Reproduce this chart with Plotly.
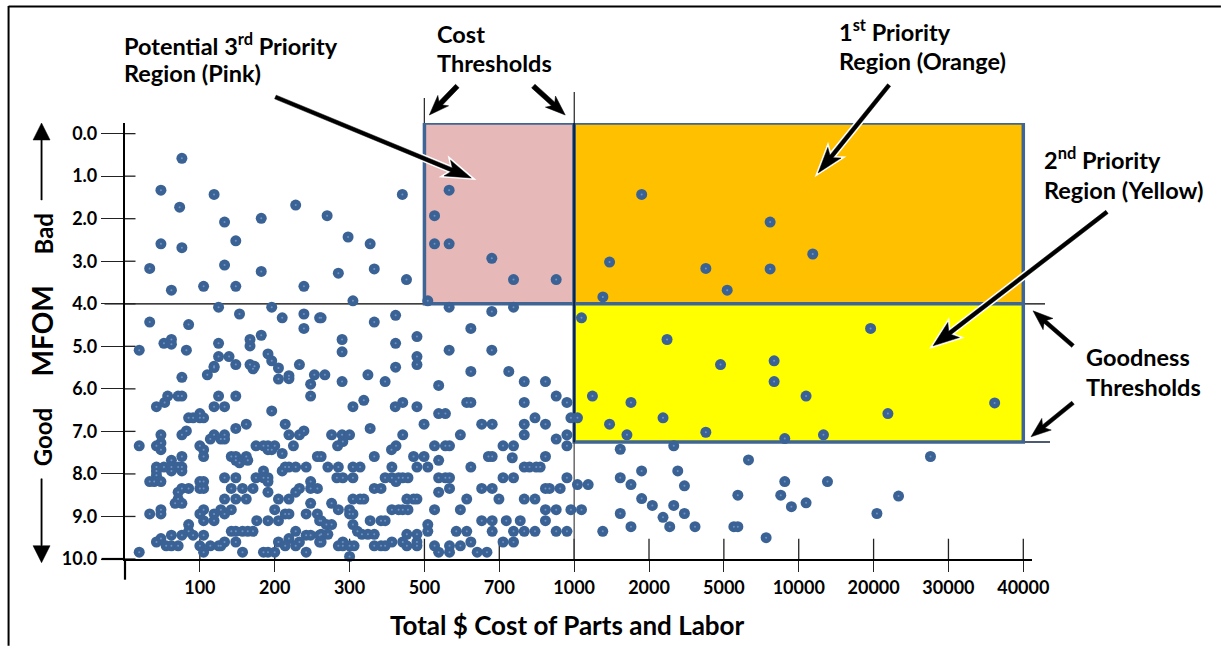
import numpy as np
import plotly.graph_objects as go

# ---------- data: (total cost $, MFOM) ----------
cost_ticks = [0, 100, 200, 300, 500, 700, 1000, 2000, 5000, 10000, 20000, 30000, 40000]
cost_tick_labels = ["100", "200", "300", "500", "700", "1000", "2000", "5000", "10000", "20000", "30000", "40000"]
mfom_ticks = [0, 1, 2, 3, 4, 5, 6, 7, 8, 9, 10]
mfom_tick_labels = ["0.0", "1.0", "2.0", "3.0", "4.0", "5.0", "6.0", "7.0", "8.0", "9.0", "10.0"]
cost_thresholds = [500, 1000]
goodness_thresholds = [4.0, 7.25]

points_upper_left = [
(76,0.58),(48,1.33),(119,1.43),(73,1.73),(228,1.68),(182,1.99),(133,2.08),(148,2.52),(48,2.59),(76,2.68),
(133,3.09),(33,3.17),(182,3.24),(62,3.68),(105,3.59),(148,3.59),(239,3.59),(125,4.08),(196,4.08),(153,4.24),
(239,4.24),(210,4.33),(260,4.33),(33,4.43),(85,4.49),(239,4.58),(182,4.74),(167,4.84),(62,4.84),(52,4.93),
(62,4.95),(125,4.93),(167,4.99),(19,5.09),(82,5.09),(191,5.18),(125,5.24),(139,5.24),(196,5.34),(148,5.43),
(167,5.43),(173,5.47),(233,5.43),(119,5.47),(205,5.51),(76,5.73),(110,5.67),(119,5.50),(171,5.53),(205,5.77),
(219,5.69),(219,5.76),(253,5.67),(248,5.89),(248,6.17),
]
points_low_cost = [
(57,6.17),(53,6.32),(42,6.42),(71,6.17),(76,6.17),(125,6.17),(148,6.17),(119,6.42),(133,6.42),(196,6.52),
(100,6.58),(85,6.68),(91,6.68),(100,6.68),(105,6.68),(162,6.83),(214,6.83),(148,6.93),(82,6.99),(239,6.99),
(76,7.08),(48,7.08),(119,7.08),(133,7.08),(219,7.08),(233,7.08),(114,7.18),(128,7.18),(133,7.18),(48,7.27),
(19,7.34),(42,7.34),(100,7.34),(175,7.34),(185,7.34),(191,7.34),(200,7.34),(225,7.34),(48,7.43),(105,7.43),
(191,7.43),(196,7.43),(210,7.52),(76,7.59),(105,7.59),(142,7.59),(148,7.59),(162,7.59),(257,7.59),(62,7.68),
(148,7.68),(153,7.74),(164,7.68),(42,7.84),(52,7.84),(62,7.84),(71,7.84),(76,7.84),(214,7.84),(219,7.84),
(228,7.84),(242,7.84),(42,7.93),(62,7.93),(76,7.93),(185,7.93),(210,7.93),(42,8.03),(133,8.09),(148,8.09),
(175,8.09),(185,8.09),(191,8.09),(100,8.18),(105,8.18),(33,8.18),(39,8.18),(48,8.18),(191,8.18),(248,8.18),
(76,8.34),(85,8.34),(100,8.34),(105,8.34),(142,8.34),(157,8.34),(171,8.34),(248,8.34),(257,8.34),(233,8.34),
(71,8.43),(228,8.43),(191,8.43),(71,8.59),(133,8.59),(148,8.59),(162,8.59),(205,8.59),(219,8.59),(67,8.69),
(76,8.69),(248,8.69),(142,8.84),(128,8.84),(105,8.84),(48,8.84),(200,8.84),(119,8.94),(133,8.94),(100,8.94),
(33,8.94),(48,8.94),(214,8.94),(219,8.94),(242,8.94),(257,8.94),(105,9.10),(119,9.10),(176,9.10),(191,9.10),
(205,9.10),(260,9.10),(85,9.19),(142,9.35),(148,9.35),(157,9.35),(164,9.35),(171,9.35),(228,9.35),(85,9.35),
(62,9.44),(76,9.44),(91,9.44),(105,9.44),(242,9.44),(248,9.44),(260,9.44),(48,9.52),(219,9.52),(42,9.60),
(148,9.60),(205,9.60),(233,9.60),(260,9.60),(133,9.60),(55,9.69),(62,9.69),(71,9.69),(100,9.69),(114,9.69),
(125,9.69),(128,9.69),(214,9.69),(228,9.69),(19,9.84),(105,9.84),(157,9.84),(185,9.84),(191,9.84),(200,9.84),
(242,9.84),
]
points_mid_cost = [
(267,5.67),(290,5.83),(349,5.67),(395,5.83),(538,5.92),(624,5.59),(738,5.59),(800,5.83),(885,5.83),(928,6.17),
(971,6.32),(800,6.32),(338,6.27),(309,6.42),(442,6.32),(422,6.42),(480,6.42),(613,6.32),(624,6.32),(538,6.58),
(556,6.58),(499,6.83),(653,6.83),(681,6.83),(800,6.83),(843,6.68),(885,6.83),(987,6.68),(355,6.93),(276,7.08),
(290,7.08),(300,7.08),(442,7.08),(596,7.08),(800,7.08),(971,7.08),(928,7.18),(291,7.24),(284,7.34),(424,7.34),
(412,7.43),(527,7.34),(556,7.34),(567,7.34),(715,7.34),(757,7.34),(971,7.34),(262,7.59),(366,7.59),(471,7.59),
(499,7.59),(671,7.59),(681,7.59),(752,7.62),(885,7.59),(538,7.68),(271,7.84),(285,7.84),(309,7.84),(328,7.84),
(413,7.84),(480,7.84),(509,7.84),(624,7.84),(800,7.84),(821,7.84),(848,7.84),(864,7.84),(283,8.09),(291,8.09),
(309,8.09),(395,8.09),(413,8.09),(431,8.09),(442,8.09),(456,8.09),(424,8.18),(538,8.09),(556,8.09),(567,8.09),
(715,8.09),(757,8.09),(971,8.09),(366,8.34),(384,8.34),(567,8.34),(653,8.34),(681,8.34),(885,8.34),(901,8.34),
(944,8.34),(538,8.43),(309,8.59),(328,8.59),(338,8.59),(453,8.59),(471,8.59),(480,8.59),(613,8.59),(699,8.59),
(800,8.59),(843,8.59),(276,8.69),(285,8.84),(300,8.84),(413,8.84),(431,8.84),(442,8.84),(456,8.84),(527,8.84),
(596,8.84),(885,8.84),(928,8.84),(987,8.84),(309,8.94),(300,8.94),(262,9.10),(355,9.10),(384,9.10),(395,9.10),
(653,9.10),(681,9.10),(728,9.10),(784,9.10),(885,9.10),(269,9.19),(276,9.19),(309,9.19),(509,9.19),(321,9.35),
(333,9.42),(349,9.42),(366,9.42),(262,9.42),(271,9.42),(453,9.42),(480,9.42),(509,9.35),(585,9.35),(613,9.35),
(681,9.35),(757,9.35),(800,9.35),(843,9.35),(928,9.35),(971,9.35),(262,9.60),(291,9.60),(413,9.60),(442,9.60),
(480,9.60),(624,9.60),(715,9.60),(757,9.60),(285,9.69),(291,9.69),(300,9.69),(312,9.69),(366,9.69),(384,9.69),
(395,9.69),(453,9.69),(480,9.69),(527,9.69),(567,9.69),(596,9.69),(538,9.84),(567,9.84),(641,9.84),(667,9.84),
(300,9.94),
]
points_pink_area = [
(441,1.43),(566,1.33),(270,1.93),(527,1.93),(298,2.43),(355,2.59),(527,2.59),(566,2.59),(680,2.93),(285,3.28),
(366,3.18),(452,3.43),(757,3.43),(928,3.43),(309,3.93),(509,3.93),(566,4.08),(680,4.18),(757,4.08),(262,4.33),
(366,4.43),(423,4.27),(624,4.58),(290,4.84),(290,5.13),(423,4.93),(480,4.77),(566,5.09),(680,5.09),(480,5.24),
(480,5.43),(423,5.49),
]
points_high_cost = [
(1902,1.43),(8089,2.08),(11875,2.83),(1473,3.02),(4277,3.17),(8089,3.18),(5222,3.68),(1384,3.84),(1098,4.33),
(2723,4.84),(19598,4.58),(4866,5.43),(8356,5.34),(8356,5.83),(10982,6.17),(1759,6.32),(2562,6.68),(1473,6.83),
(21911,6.58),(1705,7.08),(4277,7.02),(9067,7.17),(13304,7.08),(36173,6.33),(1244,6.17),(1044,6.68),(2991,7.34),
(1616,7.42),(6644,7.67),(1901,7.93),(3152,7.93),(1616,8.09),(1759,8.25),(3420,8.28),(9067,8.18),(13839,8.18),
(5933,8.50),(8800,8.50),(23333,8.52),(1902,8.58),(2134,8.74),(2991,8.74),(9511,8.77),(10982,8.68),(1616,8.93),
(3420,8.93),(20444,8.93),(2562,9.02),(1759,9.24),(2830,9.24),(3844,9.24),(5667,9.24),(5933,9.24),(7822,9.50),
(27600,7.59),(1044,8.25),(1187,8.25),(1098,8.84),(1382,9.35),
]

all_points = points_upper_left + points_low_cost + points_mid_cost + points_pink_area + points_high_cost
cost = np.array([p[0] for p in all_points], dtype=float)
mfom = np.array([p[1] for p in all_points], dtype=float)

# ---------- the cost axis is an ordinal (unevenly spaced) scale ----------
tick_pos = np.arange(len(cost_ticks))
def cost_scale(v):
    return np.interp(v, cost_ticks, tick_pos)

# ---------- layout helpers ----------
W, H = 1221, 646
L, R, T, B = 124.5, 1032.0, 123.0, 559.3
PW, PH = R - L, B - T
def px(p): return (p - L) / PW
def py(p): return (B - p) / PH

FONT = "Lato"
BLUE = "#3A6295"
BORDER = "#3F6594"

fig = go.Figure()
fig.add_trace(go.Scatter(x=cost_scale(cost), y=mfom, mode="markers", cliponaxis=False,
                         marker=dict(size=11, color=BLUE, line=dict(width=0)),
                         hoverinfo="skip", showlegend=False))
fig.add_trace(go.Scatter(x=cost_scale(cost), y=mfom, mode="markers", cliponaxis=False,
                         marker=dict(size=2, color="#6F93C4", line=dict(width=0)),
                         hoverinfo="skip", showlegend=False))

shapes = []
top_m = -0.25
xa, xb = cost_scale(cost_thresholds[0]), cost_scale(cost_thresholds[1])
xc = cost_scale(40000)
g1, g2 = goodness_thresholds
for x0, x1, y0, y1, col in [(xa, xb, top_m, g1, "#E6B8B7"),
                            (xb, xc, top_m, g1, "#FFC000"),
                            (xb, xc, g1, g2, "#FFFF00")]:
    shapes.append(dict(type="rect", layer="below", xref="x", yref="y", x0=x0, x1=x1, y0=y0, y1=y1,
                       fillcolor=col, line=dict(color=BORDER, width=3.5)))
# threshold lines
shapes.append(dict(type="line", layer="below", xref="paper", yref="y", x0=px(104), x1=px(1045), y0=g1, y1=g1,
                   line=dict(color="#000000", width=1.3)))
shapes.append(dict(type="line", layer="below", xref="paper", yref="y", x0=px(574), x1=px(1050), y0=g2, y1=g2,
                   line=dict(color="#10243F", width=1.6)))
shapes.append(dict(type="line", layer="below", xref="paper", yref="paper", x0=px(424), x1=px(424), y0=py(98), y1=py(304),
                   line=dict(color="#222222", width=1.2)))
shapes.append(dict(type="line", layer="below", xref="paper", yref="paper", x0=px(574), x1=px(574), y0=py(92), y1=py(123),
                   line=dict(color="#222222", width=1.2)))
shapes.append(dict(type="line", layer="below", xref="x", yref="y", x0=xb, x1=xb, y0=top_m, y1=g2,
                   line=dict(color="#10243F", width=2)))
shapes.append(dict(type="line", layer="below", xref="x", yref="y", x0=xb, x1=xb, y0=g2, y1=10,
                   line=dict(color="#444444", width=1.2)))
# inner halves of the crossing ticks
for v in cost_ticks[1:]:
    xv = cost_scale(v)
    shapes.append(dict(type="line", layer="below", xref="x", yref="paper", x0=xv, x1=xv, y0=0, y1=py(539),
                       line=dict(color="#222222", width=1.3)))
for v in mfom_ticks:
    shapes.append(dict(type="line", layer="below", xref="paper", yref="y", x0=0, x1=px(135), y0=v, y1=v,
                       line=dict(color="#222222", width=1.3)))
# axis overshoots
shapes.append(dict(type="line", xref="paper", yref="paper", x0=0, x1=0, y0=py(B), y1=py(580), line=dict(color="#000", width=2.2)))
shapes.append(dict(type="line", xref="paper", yref="paper", x0=px(101), x1=0, y0=0, y1=0, line=dict(color="#000", width=2.2)))
# page frame
shapes.append(dict(type="line", xref="paper", yref="paper", x0=px(8), x1=px(8), y0=py(6), y1=py(646), line=dict(color="#000", width=2)))
shapes.append(dict(type="line", xref="paper", yref="paper", x0=px(8), x1=px(1221), y0=py(6.5), y1=py(6.5), line=dict(color="#000", width=2)))

annotations = []
def label(text, x, yc, size=23.5, anchor="left", angle=0):
    annotations.append(dict(text=text, xref="paper", yref="paper", x=px(x), y=py(yc), xanchor=anchor, yanchor="middle",
                            showarrow=False, textangle=angle, font=dict(family=FONT, size=size, color="#000", weight=700)))

def arrow(x0, y0, x1, y1, shaft=3.5, head_len=22, head_w=15, halo=False, notch=0.82):
    """Callout arrow drawn as a filled polygon, tail (x0,y0) to tip (x1,y1), in page pixels."""
    d = np.array([x1 - x0, y1 - y0], dtype=float)
    d /= np.hypot(*d)
    n = np.array([-d[1], d[0]])
    tail, tip = np.array([x0, y0], float), np.array([x1, y1], float)
    neck = tip - d * head_len * notch
    barb = tip - d * head_len
    poly = [tail + n * shaft / 2, neck + n * shaft / 2, barb + n * head_w / 2, tip,
            barb - n * head_w / 2, neck - n * shaft / 2, tail - n * shaft / 2]
    path = "M " + " L ".join(f"{px(p[0]):.5f},{py(p[1]):.5f}" for p in poly) + " Z"
    if halo:
        shapes.append(dict(type="path", xref="paper", yref="paper", path=path, fillcolor="#FFFFFF",
                           line=dict(color="#FFFFFF", width=3.5)))
    shapes.append(dict(type="path", xref="paper", yref="paper", path=path, fillcolor="#000000",
                       line=dict(color="#000000", width=0.5)))

label("Potential 3<sup>rd</sup> Priority", 121, 44)
label("Region (Pink)", 121, 73)
label("Cost", 435, 34)
label("Thresholds", 435, 63)
label("1<sup>st</sup> Priority", 837, 30)
label("Region (Orange)", 837, 61)
label("2<sup>nd</sup> Priority", 1042, 159)
label("Region (Yellow)", 1042, 190)
label("Goodness", 1084, 357)
label("Thresholds", 1084, 387)
label("Total $ Cost of Parts and Labor", 567.5, 625, size=26, anchor="center")
label("MFOM", 41, 331, size=28, anchor="center", angle=-90)
label("Bad", 43, 234, size=24, anchor="center", angle=-90)
label("Good", 42, 438, size=24, anchor="center", angle=-90)

arrow(275, 97, 471, 178, shaft=4, head_len=26, head_w=17, halo=True)
arrow(457, 86, 429, 115, shaft=5, head_len=20, head_w=15)
arrow(533, 86, 565, 115, shaft=5, head_len=20, head_w=15)
arrow(889, 85, 818, 173, shaft=4, head_len=26, head_w=17, halo=True)
arrow(1107, 212, 933, 346, shaft=4, head_len=26, head_w=19, halo=True)
arrow(1073, 346, 1033, 311, shaft=4, head_len=20, head_w=15)
arrow(1073, 403, 1031, 437, shaft=4, head_len=20, head_w=15)
arrow(41, 200, 41, 123, shaft=1.3, head_len=17, head_w=17, notch=1.0)
arrow(41, 479, 41, 563, shaft=1.3, head_len=17, head_w=17, notch=1.0)

axis_font = dict(family=FONT, size=18, color="#000", weight=700)
fig.update_layout(
    width=W, height=H, paper_bgcolor="white", plot_bgcolor="rgba(0,0,0,0)",
    margin=dict(l=L, r=W - R, t=T, b=H - B, pad=0), showlegend=False,
    shapes=shapes, annotations=annotations,
    xaxis=dict(range=[0, (R - L) / 74.9], tickmode="array", tickvals=tick_pos[1:].tolist(), ticktext=cost_tick_labels,
               ticks="outside", ticklen=11, tickwidth=1.3, tickcolor="#222", showgrid=False, zeroline=False,
               showline=True, linecolor="#000", linewidth=2.2, tickfont=axis_font, fixedrange=True),
    yaxis=dict(range=[10, top_m], tickmode="array", tickvals=mfom_ticks, ticktext=mfom_tick_labels,
               ticks="outside", ticklen=22, tickwidth=1.3, tickcolor="#222", showgrid=False, zeroline=False,
               showline=True, linecolor="#000", linewidth=2.2, tickfont=axis_font, fixedrange=True),
)
fig.write_html("out.html", config={"displayModeBar": False},
               post_script="document.body.style.margin='0';")
